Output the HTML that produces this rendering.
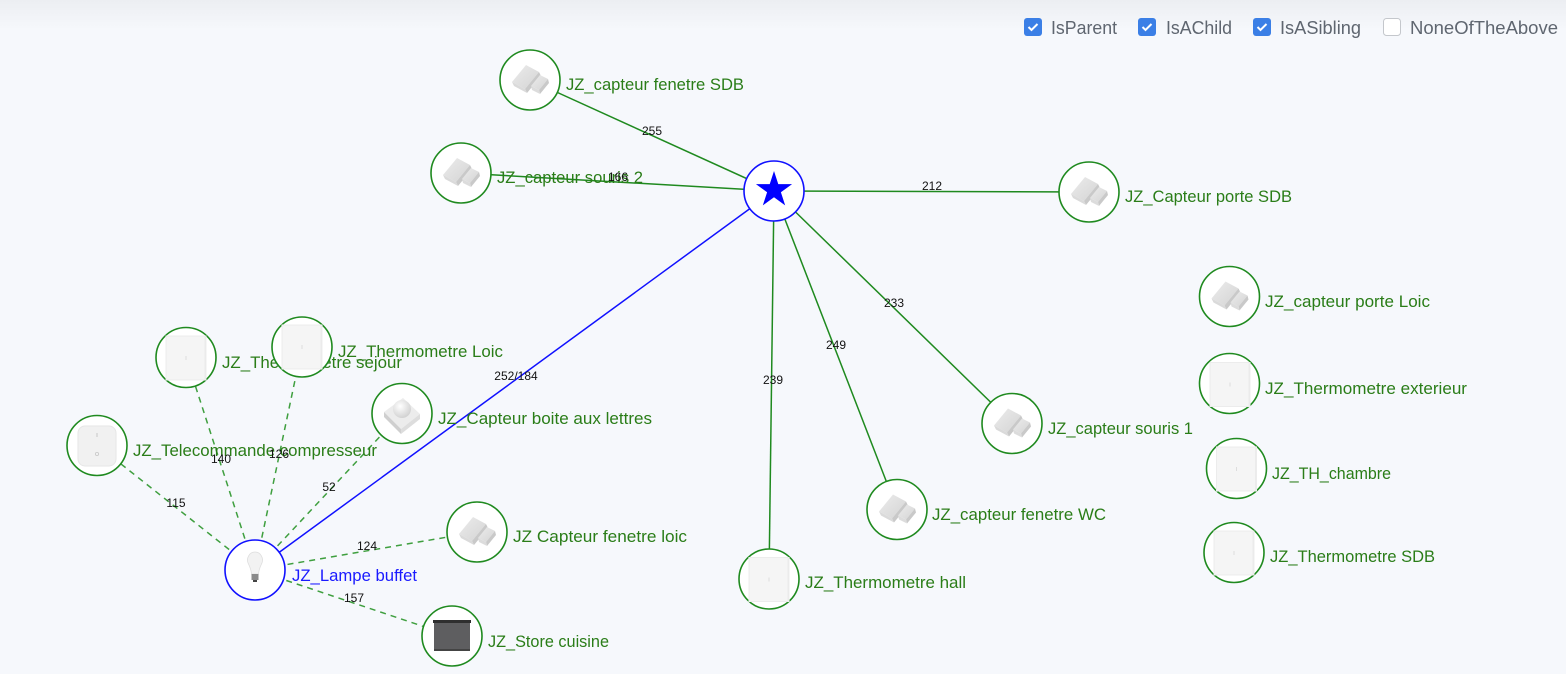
<!DOCTYPE html>
<html><head><meta charset="utf-8">
<style>
html,body{margin:0;padding:0;width:1566px;height:674px;overflow:hidden;background:#f6f8fc;}
svg{position:absolute;left:0;top:0;}
</style></head>
<body>
<svg width="1566" height="674" viewBox="0 0 1566 674" xmlns="http://www.w3.org/2000/svg" font-family="'Liberation Sans', sans-serif">
<defs>
<linearGradient id="topg" x1="0" y1="0" x2="0" y2="1">
<stop offset="0" stop-color="#eceef2"/><stop offset="1" stop-color="#f6f8fc"/>
</linearGradient>
<radialGradient id="dome" cx="0.4" cy="0.35" r="0.7">
<stop offset="0" stop-color="#ffffff"/><stop offset="1" stop-color="#cfcfcf"/>
</radialGradient>
<linearGradient id="blk" x1="0" y1="0" x2="1" y2="1">
<stop offset="0" stop-color="#ececec"/><stop offset="1" stop-color="#d4d4d4"/>
</linearGradient>
<g id="sensor">
<path d="M-18,2 L-4,-15 L9,-8 L-5,9 Z" fill="url(#blk)"/>
<path d="M-5,9 L9,-8 L11,-4 L-3,13 Z" fill="#c9c9c9"/>
<path d="M-18,2 L-5,9 L-3,13 L-16,6 Z" fill="#dadada"/>
<path d="M1,6 L10,-5 L18,-1 L9,10 Z" fill="url(#blk)"/>
<path d="M9,10 L18,-1 L19,3 L10,14 Z" fill="#c9c9c9"/>
<path d="M1,6 L9,10 L10,14 L2,10 Z" fill="#dcdcdc"/>
</g>
<g id="thermo">
<rect x="-20" y="-22" width="40" height="44" fill="#f5f5f5" stroke="#ececec" stroke-width="1"/>
<rect x="18.5" y="-21" width="1.5" height="43" fill="#ebebeb"/>
<rect x="-0.5" y="-2" width="1" height="4" fill="#dddddd"/>
</g>
</defs>

<rect x="0" y="0" width="1566" height="30" fill="url(#topg)"/>

<!-- checkboxes -->
<rect x="1024" y="18" width="18" height="18" rx="3" fill="#3b7fe6"/>
<path d="M1028.5,27 L1031.5,30 L1037.5,24" stroke="#fff" stroke-width="2" fill="none"/>
<text x="1051" y="34" font-size="18" fill="#5f6670" textLength="66" lengthAdjust="spacingAndGlyphs">IsParent</text>
<rect x="1138" y="18" width="18" height="18" rx="3" fill="#3b7fe6"/>
<path d="M1142.5,27 L1145.5,30 L1151.5,24" stroke="#fff" stroke-width="2" fill="none"/>
<text x="1166" y="34" font-size="18" fill="#5f6670" textLength="66" lengthAdjust="spacingAndGlyphs">IsAChild</text>
<rect x="1253" y="18" width="18" height="18" rx="3" fill="#3b7fe6"/>
<path d="M1257.5,27 L1260.5,30 L1266.5,24" stroke="#fff" stroke-width="2" fill="none"/>
<text x="1280" y="34" font-size="18" fill="#5f6670" textLength="81" lengthAdjust="spacingAndGlyphs">IsASibling</text>
<rect x="1383.5" y="18.5" width="17" height="17" rx="3" fill="#fff" stroke="#c4c7cc" stroke-width="1"/>
<text x="1410" y="34" font-size="18" fill="#5f6670" textLength="148" lengthAdjust="spacingAndGlyphs">NoneOfTheAbove</text>

<!-- edges from star -->
<g stroke="#1f8a1f" stroke-width="1.5">
<line x1="774" y1="191" x2="530" y2="80"/>
<line x1="774" y1="191" x2="461" y2="173"/>
<line x1="774" y1="191" x2="1089" y2="192"/>
<line x1="774" y1="191" x2="1012" y2="423"/>
<line x1="774" y1="191" x2="897" y2="509"/>
<line x1="774" y1="191" x2="769" y2="579"/>
</g>
<line x1="774" y1="191" x2="255" y2="570" stroke="#1010ff" stroke-width="1.5"/>
<!-- dashed edges from lamp -->
<g stroke="#3f9f3f" stroke-width="1.5" stroke-dasharray="6,5">
<line x1="255" y1="570" x2="97" y2="445"/>
<line x1="255" y1="570" x2="186" y2="357"/>
<line x1="255" y1="570" x2="302" y2="347"/>
<line x1="255" y1="570" x2="402" y2="413"/>
<line x1="255" y1="570" x2="477" y2="532"/>
<line x1="255" y1="570" x2="452" y2="636"/>
</g>

<!-- nodes -->
<g stroke="#1f8a1f" stroke-width="1.6" fill="#ffffff">
<circle cx="530" cy="80" r="30"/>
<circle cx="461" cy="173" r="30"/>
<circle cx="1089" cy="192" r="30"/>
<circle cx="1229.5" cy="296.5" r="30"/>
<circle cx="1229.5" cy="383.5" r="30"/>
<circle cx="1236.5" cy="468.5" r="30"/>
<circle cx="1234" cy="552.5" r="30"/>
<circle cx="1012" cy="423.5" r="30"/>
<circle cx="897" cy="509.5" r="30"/>
<circle cx="769" cy="579" r="30"/>
<circle cx="452" cy="636" r="30"/>
<circle cx="477" cy="532" r="30"/>
<circle cx="402" cy="413.5" r="30"/>
<circle cx="97" cy="445.5" r="30"/>
<circle cx="186" cy="357.5" r="30"/>
</g>

<use href="#sensor" transform="translate(530,80)"/>
<use href="#sensor" transform="translate(461,173)"/>
<use href="#sensor" transform="translate(1089,192)"/>
<use href="#sensor" transform="translate(1229.5,296.5)"/>
<use href="#thermo" transform="translate(1230,384.5)"/>
<use href="#thermo" transform="translate(1236.5,469)"/>
<use href="#thermo" transform="translate(1234,553)"/>
<use href="#sensor" transform="translate(1012,423.5)"/>
<use href="#sensor" transform="translate(897,509.5)"/>
<use href="#thermo" transform="translate(769,579.5)"/>
<use href="#sensor" transform="translate(477,532)"/>
<use href="#thermo" transform="translate(186,358)"/>

<!-- store -->
<rect x="434" y="621" width="36" height="30" fill="#5e5e60"/>
<rect x="433" y="620" width="38" height="3" fill="#2f2f2f"/>
<rect x="434" y="649" width="36" height="2" fill="#444"/>
<!-- remote -->
<rect x="78" y="426" width="38" height="40" rx="7" fill="#f1f1f1" stroke="#e6e6e6"/>
<rect x="96.5" y="433" width="1" height="4" fill="#c8c8c8"/>
<circle cx="97" cy="454" r="1.6" fill="none" stroke="#c8c8c8" stroke-width="0.8"/>
<!-- motion sensor -->
<path d="M384,412 L403,398 L420,414 L401,429 Z" fill="#ececec"/>
<path d="M384,412 L401,429 L401,434 L384,417 Z" fill="#cfcfcf"/>
<path d="M401,429 L420,414 L420,419 L401,434 Z" fill="#dddddd"/>
<circle cx="402" cy="409" r="9" fill="url(#dome)"/>

<text x="566" y="90" font-size="17" fill="#2a7d18" textLength="178" lengthAdjust="spacingAndGlyphs">JZ_capteur fenetre SDB</text>
<text x="497" y="183" font-size="17" fill="#2a7d18" textLength="146" lengthAdjust="spacingAndGlyphs">JZ_capteur souris 2</text>
<text x="1125" y="202" font-size="17" fill="#2a7d18" textLength="167" lengthAdjust="spacingAndGlyphs">JZ_Capteur porte SDB</text>
<text x="1265" y="307" font-size="17" fill="#2a7d18" textLength="165" lengthAdjust="spacingAndGlyphs">JZ_capteur porte Loic</text>
<text x="1265" y="394" font-size="17" fill="#2a7d18" textLength="202" lengthAdjust="spacingAndGlyphs">JZ_Thermometre exterieur</text>
<text x="1272" y="479" font-size="17" fill="#2a7d18" textLength="119" lengthAdjust="spacingAndGlyphs">JZ_TH_chambre</text>
<text x="1270" y="562" font-size="17" fill="#2a7d18" textLength="165" lengthAdjust="spacingAndGlyphs">JZ_Thermometre SDB</text>
<text x="1048" y="434" font-size="17" fill="#2a7d18" textLength="145" lengthAdjust="spacingAndGlyphs">JZ_capteur souris 1</text>
<text x="932" y="520" font-size="17" fill="#2a7d18" textLength="174" lengthAdjust="spacingAndGlyphs">JZ_capteur fenetre WC</text>
<text x="805" y="588" font-size="17" fill="#2a7d18" textLength="161" lengthAdjust="spacingAndGlyphs">JZ_Thermometre hall</text>
<text x="488" y="647" font-size="17" fill="#2a7d18" textLength="121" lengthAdjust="spacingAndGlyphs">JZ_Store cuisine</text>
<text x="513" y="542" font-size="17" fill="#2a7d18" textLength="174" lengthAdjust="spacingAndGlyphs">JZ Capteur fenetre loic</text>
<text x="438" y="424" font-size="17" fill="#2a7d18" textLength="214" lengthAdjust="spacingAndGlyphs">JZ_Capteur boite aux lettres</text>
<text x="133" y="456" font-size="17" fill="#2a7d18" textLength="244" lengthAdjust="spacingAndGlyphs">JZ_Telecommande compresseur</text>
<text x="222" y="368" font-size="17" fill="#2a7d18" textLength="180" lengthAdjust="spacingAndGlyphs">JZ_Thermometre sejour</text>

<!-- Thermometre Loic node on top of sejour label -->
<circle cx="302" cy="347" r="30" fill="#fff" stroke="#1f8a1f" stroke-width="1.6"/>
<use href="#thermo" transform="translate(302,347)"/>
<text x="338" y="357" font-size="17" fill="#2a7d18" textLength="165" lengthAdjust="spacingAndGlyphs">JZ_Thermometre Loic</text>

<!-- star node -->
<circle cx="774" cy="191" r="30" fill="#fff" stroke="#1010ff" stroke-width="1.6"/>
<path d="M774,171 L778.27,184.13 L792.07,184.13 L780.9,192.24 L785.17,205.37 L774,197.26 L762.83,205.37 L767.1,192.24 L755.93,184.13 L769.73,184.13 Z" fill="#0000ff"/>

<!-- lamp node -->
<circle cx="255" cy="570" r="30" fill="#fff" stroke="#1010ff" stroke-width="1.6"/>
<path d="M248.5,564 A7.5,8 0 1 1 261.5,564 Q259,569 258.5,574 L251.5,574 Q251,569 248.5,564 Z" fill="#f2f2f2" stroke="#dedede" stroke-width="0.8"/>
<rect x="251.5" y="574" width="7" height="6" fill="#8a8a8a"/>
<rect x="253" y="580" width="4" height="2" fill="#444"/>
<text x="292" y="581" font-size="17" fill="#1a1aff" textLength="125" lengthAdjust="spacingAndGlyphs">JZ_Lampe buffet</text>

<!-- edge labels -->
<g font-size="12" fill="#111" text-anchor="middle">
<text x="652" y="135">255</text>
<text x="618" y="181">166</text>
<text x="932" y="190">212</text>
<text x="894" y="307">233</text>
<text x="836" y="349">249</text>
<text x="773" y="384">239</text>
<text x="516" y="380">252/184</text>
<text x="176" y="507">115</text>
<text x="221" y="463">140</text>
<text x="279" y="458">126</text>
<text x="329" y="491">52</text>
<text x="367" y="550">124</text>
<text x="354" y="602">157</text>
</g>
</svg>
</body></html>
